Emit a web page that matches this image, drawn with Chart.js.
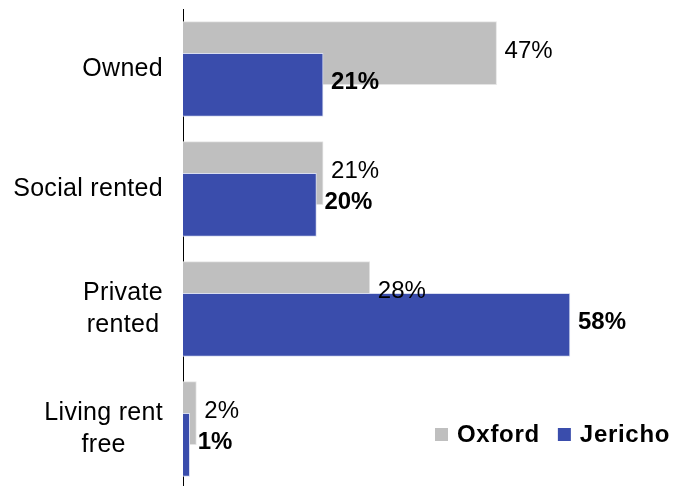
<!DOCTYPE html>
<html>
<head>
<meta charset="utf-8">
<script src="https://cdn.jsdelivr.net/npm/chart.js@4.4.0/dist/chart.umd.min.js"></script>
<style>
    html, body { margin: 0; padding: 0; background: #fff; }
    #wrap { width: 675px; height: 486px; }
</style>
</head>
<body>
<div id="wrap"><canvas id="tenureChart" width="675" height="486"></canvas></div>
<script>
// Tenure categories (one array entry per label line)
const categorias = [['Owned'], ['Social rented'], ['Private', 'rented'], ['Living rent', 'free']];
const valoresOxford = [47, 21, 28, 2];
const valoresJericho = [21, 20, 58, 1];
const nomesSeries = ['Oxford', 'Jericho'];

const corOxford = '#bfbfbf';
const corJericho = '#3a4dac';
const fonte = '"Liberation Sans", Arial, sans-serif';

// Deslocamento das barras em relação ao centro da categoria (sobrepostas)
const deslocamento = 0.132;

function montarPontos(valores, sinal) {
    return valores.map((v, i) => ({ x: v, y: i + sinal * deslocamento }));
}

// Rótulos de categoria, linhas centradas entre si e alinhadas à direita
const rotulosCategoria = {
    id: 'rotulosCategoria',
    afterDraw(chart) {
        const ctx = chart.ctx;
        const escala = chart.scales.y;
        const direita = chart.chartArea.left - 20;
        const alturaLinha = 32;
        ctx.save();
        ctx.font = '25px ' + fonte;
        ctx.letterSpacing = '0.3px';
        ctx.fillStyle = '#000';
        ctx.textBaseline = 'middle';
        ctx.textAlign = 'center';
        categorias.forEach((linhas, i) => {
            const largura = Math.max(...linhas.map(l => ctx.measureText(l).width));
            const cx = direita - largura / 2;
            const cy = escala.getPixelForValue(i);
            const topo = cy - (linhas.length - 1) * alturaLinha / 2;
            linhas.forEach((l, k) => ctx.fillText(l, cx, topo + k * alturaLinha));
        });
        ctx.restore();
    }
};

// Rótulos de valor no fim de cada barra
const rotulosValor = {
    id: 'rotulosValor',
    afterDatasetsDraw(chart) {
        const ctx = chart.ctx;
        ctx.save();
        ctx.fillStyle = '#000';
        ctx.textBaseline = 'middle';
        ctx.textAlign = 'left';
        chart.data.datasets.forEach((ds, d) => {
            const meta = chart.getDatasetMeta(d);
            ctx.font = (ds.label === 'Jericho' ? 'bold ' : '') + '24px ' + fonte;
            meta.data.forEach((barra, i) => {
                ctx.fillText(ds.data[i].x + '%', barra.x + 8, barra.y - 2);
            });
        });
        ctx.restore();
    }
};

// Legenda dentro da área do gráfico, canto inferior direito
const legendaInterna = {
    id: 'legendaInterna',
    afterDraw(chart) {
        const ctx = chart.ctx;
        const cores = [corOxford, corJericho];
        let x = 435;
        const y = 435;
        ctx.save();
        ctx.font = 'bold 24px ' + fonte;
        ctx.letterSpacing = '0.7px';
        ctx.textBaseline = 'middle';
        ctx.textAlign = 'left';
        nomesSeries.forEach((nome, i) => {
            ctx.fillStyle = cores[i];
            ctx.fillRect(x, y - 7, 13, 13);
            ctx.fillStyle = '#000';
            ctx.fillText(nome, x + 22, y);
            x += 22 + ctx.measureText(nome).width + 18;
        });
        ctx.restore();
    }
};

new Chart(document.getElementById('tenureChart'), {
    type: 'bar',
    data: {
        datasets: [
            {
                label: 'Oxford',
                data: montarPontos(valoresOxford, -1),
                backgroundColor: corOxford,
                borderColor: '#e4e4e4',
                borderWidth: 1,
                order: 2
            },
            {
                label: 'Jericho',
                data: montarPontos(valoresJericho, 1),
                backgroundColor: corJericho,
                borderColor: '#d8ddf0',
                borderWidth: 1,
                order: 1
            }
        ]
    },
    options: {
        indexAxis: 'y',
        responsive: false,
        animation: false,
        grouped: false,
        barThickness: 63,
        layout: { padding: { top: 9, right: 25, bottom: 0, left: 0 } },
        plugins: {
            legend: { display: false },
            tooltip: { enabled: false }
        },
        scales: {
            x: {
                type: 'linear',
                display: false,
                min: 0,
                max: 70
            },
            y: {
                type: 'linear',
                reverse: true,
                offset: false,
                min: -0.5,
                max: 3.475,
                grid: { display: false, offset: false },
                ticks: { display: false },
                border: { display: true, color: '#000', width: 1 },
                afterFit(escala) { escala.width = 183; }
            }
        }
    },
    plugins: [rotulosCategoria, rotulosValor, legendaInterna]
});
</script>
</body>
</html>
